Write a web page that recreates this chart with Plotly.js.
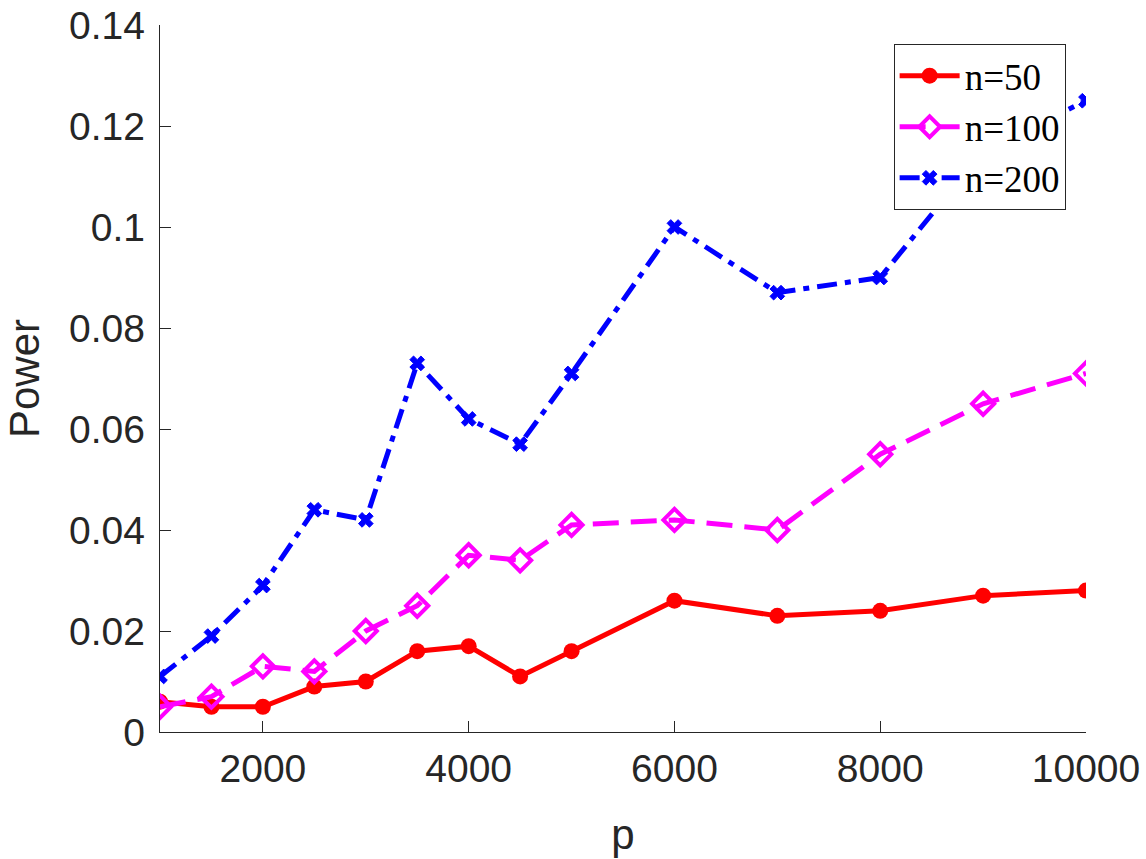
<!DOCTYPE html>
<html>
<head>
<meta charset="utf-8">
<script src="https://cdn.plot.ly/plotly-3.0.1.min.js"></script>
<style>html,body{margin:0;padding:0;background:#fff;}#chart{width:1146px;height:859px;}</style>
</head>
<body>
<div id="chart"></div>
<script>
const pValues = [1000, 1500, 2000, 2500, 3000, 3500, 4000, 4500, 5000, 6000, 7000, 8000, 9000, 10000];
const power_n50  = [0.006, 0.005, 0.005, 0.009, 0.010, 0.016, 0.017, 0.011, 0.016, 0.026, 0.023, 0.024, 0.027, 0.028];
const power_n100 = [0.005, 0.007, 0.013, 0.012, 0.020, 0.025, 0.035, 0.034, 0.041, 0.042, 0.040, 0.055, 0.065, 0.071];
const power_n200 = [0.011, 0.019, 0.029, 0.044, 0.042, 0.073, 0.062, 0.057, 0.071, 0.100, 0.087, 0.090, 0.115, 0.125];
const seriesNames = ["n=50", "n=100", "n=200"];
const xTicks = [2000, 4000, 6000, 8000, 10000];
const yTicks = [0, 0.02, 0.04, 0.06, 0.08, 0.1, 0.12, 0.14];
const yTickText = ["0", "0.02", "0.04", "0.06", "0.08", "0.1", "0.12", "0.14"];

const traces = [
  {x: pValues, y: power_n50, name: seriesNames[0], mode: "lines+markers",
   line: {color: "#ff0000", width: 5},
   marker: {symbol: "circle", size: 16, color: "#ff0000"}},
  {x: pValues, y: power_n100, name: seriesNames[1], mode: "lines+markers",
   line: {color: "#ff00ff", width: 5, dash: "26px,12px"},
   marker: {symbol: "diamond-open", size: 17, color: "#ff00ff", line: {width: 4, color: "#ff00ff"}}},
  {x: pValues, y: power_n200, name: seriesNames[2], mode: "lines+markers",
   line: {color: "#0000ff", width: 5, dash: "20px,8px,6px,8px"},
   marker: {symbol: "x", size: 13, color: "#0000ff", line: {width: 1, color: "#0000ff"}}}
];

const axisFont = {family: "Liberation Sans, Arial, sans-serif", size: 39, color: "#262626"};
const layout = {
  width: 1146, height: 859,
  margin: {l: 160, r: 60, t: 25, b: 127},
  paper_bgcolor: "#fff", plot_bgcolor: "#fff",
  showlegend: true,
  xaxis: {
    range: [1000, 10000], tickvals: xTicks, ticktext: xTicks.map(String),
    ticks: "inside", ticklen: 11, tickwidth: 1, tickcolor: "#262626",
    showline: true, linecolor: "#262626", linewidth: 1.2, showgrid: false, zeroline: false,
    tickfont: axisFont, ticklabelstandoff: 2,
    title: {text: "p", font: {family: "Liberation Sans, Arial, sans-serif", size: 42, color: "#262626"}, standoff: 30}
  },
  yaxis: {
    range: [0, 0.14], tickvals: yTicks, ticktext: yTickText,
    ticks: "inside", ticklen: 11, tickwidth: 1, tickcolor: "#262626",
    showline: true, linecolor: "#262626", linewidth: 1.2, showgrid: false, zeroline: false,
    tickfont: axisFont, ticklabelstandoff: 6,
    title: {text: "Power", font: {family: "Liberation Sans, Arial, sans-serif", size: 42, color: "#262626"}, standoff: 16}
  },
  legend: {
    x: 0.978, y: 0.973, xanchor: "right", yanchor: "top",
    bgcolor: "#fff", bordercolor: "#262626", borderwidth: 1,
    font: {family: "Liberation Serif, Times New Roman, serif", size: 37, color: "#000"},
    tracegroupgap: 0, itemwidth: 60, entrywidth: 157, entrywidthmode: "pixels"
  }
};

Plotly.newPlot("chart", traces, layout, {displayModeBar: false, staticPlot: true});
</script>
</body>
</html>
